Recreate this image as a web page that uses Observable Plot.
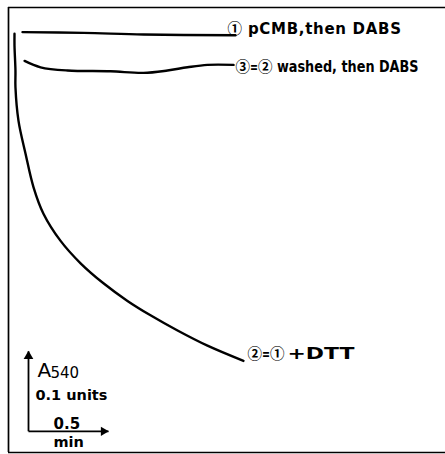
<!DOCTYPE html>
<html>
<head>
<meta charset="utf-8">
<script src="https://cdn.jsdelivr.net/npm/d3@7"></script>
<script src="https://cdn.jsdelivr.net/npm/@observablehq/plot@0.6"></script>
<style>
  html, body { margin: 0; padding: 0; background: #fff; }
  #chart svg { display: block; }
</style>
</head>
<body>
<div id="chart"></div>
<script>
// ---- data (time in min, ΔA540 in absorbance units) ----
const time1 = [0.05, 0.431, 0.806, 1.381];
const abs1  = [-0.002, -0.003, -0.005, -0.006];

const time2 = [0, 0, 0.006, 0.006, 0.025, 0.069, 0.119, 0.181, 0.288, 0.413, 0.556, 0.706, 0.85, 1.019, 1.206, 1.431];
const abs2  = [-0.004, -0.019, -0.05, -0.071, -0.113, -0.154, -0.196, -0.229, -0.263, -0.291, -0.316, -0.338, -0.356, -0.375, -0.394, -0.413];

const time3 = [0.063, 0.163, 0.331, 0.6, 0.806, 0.956, 1.081, 1.206, 1.369];
const abs3  = [-0.038, -0.046, -0.05, -0.051, -0.053, -0.05, -0.046, -0.043, -0.043];

const curveLabels = ["① pCMB,then DABS", "②=①+DTT", "③=② washed, then DABS"];

const scaleTime = 0.5;   // min
const scaleAbs = 0.1;    // A540 units
const scaleOrigin = {time: 0.0875, abs: -0.501};

const xDomain = [-0.0375, 2.7125];
const yDomain = [-0.5275, 0.02875];

const toRows = (t, a) => t.map((v, i) => ({time: v, abs: a[i]}));
const c1 = toRows(time1, abs1), c2 = toRows(time2, abs2), c3 = toRows(time3, abs3);
const last = arr => [arr[arr.length - 1]];

const font = "DejaVu Sans";
const labelStyle = {x: "time", y: "abs", textAnchor: "start", lineAnchor: "bottom", fontSize: 15, fontWeight: "bold", fill: "black", fontFamily: font};
const so = [scaleOrigin];
const lineStyle = {x: "time", y: "abs", stroke: "black", strokeWidth: 2.4, curve: "catmull-rom"};

const chart = Plot.plot({
  width: 445,
  height: 454,
  marginLeft: 8,
  marginTop: 7,
  marginRight: -3,
  marginBottom: 2,
  x: {domain: xDomain, axis: null},
  y: {domain: yDomain, axis: null},
  style: {fontFamily: font, background: "white", overflow: "hidden"},
  marks: [
    // frame (top, left, bottom)
    Plot.ruleY([yDomain[1]], {stroke: "black", strokeWidth: 1.7}),
    Plot.ruleY([yDomain[0]], {stroke: "black", strokeWidth: 1.5}),
    Plot.ruleX([xDomain[0]], {stroke: "black", strokeWidth: 1.7}),
    // curves
    Plot.line(c1, lineStyle),
    Plot.line(c2, lineStyle),
    Plot.line(c3, lineStyle),
    // curve labels
    Plot.text(last(c1), {...labelStyle, text: () => curveLabels[0], dx: -8, dy: -1}),
    Plot.text(last(c2), {...labelStyle, text: () => curveLabels[1], dx: 4, dy: -2, fontSize: 16}),
    Plot.text(last(c3), {...labelStyle, text: () => curveLabels[2], dx: 2, dy: 7}),
    // scale bar (L-shaped arrows with filled heads)
    Plot.link(so, {x1: "time", y1: "abs", x2: "time", y2: d => d.abs + scaleAbs, stroke: "black", strokeWidth: 1.8}),
    Plot.link(so, {x1: "time", y1: "abs", x2: d => d.time + scaleTime, y2: "abs", stroke: "black", strokeWidth: 1.8}),
    Plot.dot(so, {x: "time", y: d => d.abs + scaleAbs, symbol: "triangle", r: 3.6, fill: "black", stroke: "none", dy: 5}),
    Plot.dot(so, {x: d => d.time + scaleTime, y: "abs", symbol: "triangle", r: 3.4, fill: "black", stroke: "none", rotate: 90, dx: -5}),
    // scale bar labels
    Plot.text(so, {x: "time", y: "abs", text: () => "A", dx: 9, dy: -54, fontSize: 20, textAnchor: "start", lineAnchor: "bottom", fontFamily: font}),
    Plot.text(so, {x: "time", y: "abs", text: () => "540", dx: 22, dy: -53, fontSize: 15, textAnchor: "start", lineAnchor: "bottom", fontFamily: font}),
    Plot.text(so, {x: "time", y: "abs", text: () => `${scaleAbs} units`, dx: 7, dy: -31, fontSize: 14.5, fontWeight: "bold", textAnchor: "start", lineAnchor: "bottom", fontFamily: font}),
    Plot.text(so, {x: "time", y: "abs", text: () => `${scaleTime}`, dx: 25, dy: -2, fontSize: 15, fontWeight: "bold", textAnchor: "start", lineAnchor: "bottom", fontFamily: font}),
    Plot.text(so, {x: "time", y: "abs", text: () => "min", dx: 25, dy: 16, fontSize: 14.5, fontWeight: "bold", textAnchor: "start", lineAnchor: "bottom", fontFamily: font})
  ]
});

// typographic touch-up: circled digits in a font that draws full-size circles,
// and the spaced-out lettering of the original figure
const segmentWidth = {
  " pCMB,then DABS": [159, "spacing", 0],
  " washed, then DABS": [146, "spacingAndGlyphs", 0],
  "+DTT": [67, "spacingAndGlyphs", 3],
  "=": [8, "spacingAndGlyphs", 0]
};
d3.select(chart).selectAll("text").each(function () {
  const s = this.textContent;
  if (!/[①②③]/.test(s)) return;
  const parts = s.split(/([①②③=])/).filter(p => p !== "");
  const el = d3.select(this);
  el.text(null);
  for (const p of parts) {
    const t = el.append("tspan").text(p);
    if (/[①②③]/.test(p)) {
      t.attr("font-family", "Noto Sans CJK JP").attr("font-weight", "bold").attr("font-size", 14.5);
    } else if (segmentWidth[p]) {
      const [w, adj, shift] = segmentWidth[p];
      t.attr("textLength", w).attr("lengthAdjust", adj);
      if (shift) t.attr("dx", shift);
    }
  }
});
document.getElementById("chart").appendChild(chart);
</script>
</body>
</html>
